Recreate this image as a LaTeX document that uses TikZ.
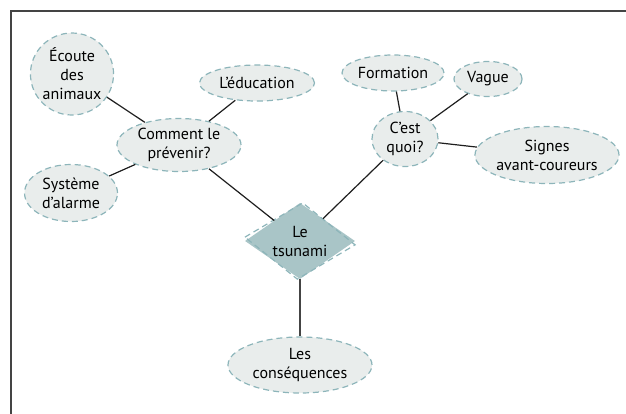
\documentclass[tikz,border=0pt]{standalone}
\usepackage{fontspec}
\setmainfont{PT Sans}
\usetikzlibrary{shapes.geometric,calc}
\definecolor{bubble}{HTML}{E9EDEC}
\definecolor{rim}{HTML}{8DB5BA}
\definecolor{diam}{HTML}{A9C5C7}
\definecolor{wirec}{HTML}{1E1E1E}
\definecolor{framec}{HTML}{444444}
\begin{document}
\begin{tikzpicture}[x=1pt,y=-1pt,
  bub/.style={ellipse, fill=bubble, draw=rim, line width=1.2pt, dash pattern=on 6pt off 4pt,
    inner sep=0pt, align=center, font=\fontsize{16}{19}\selectfont},
  tsub/.style={diamond, fill=diam, inner sep=0pt, minimum width=110pt, minimum height=76pt,
    aspect=1.45, align=center, font=\fontsize{16}{19}\selectfont},
  wire/.style={draw=wirec, line width=1.2pt},
  stem/.style={draw=framec, line width=1.8pt}]
\useasboundingbox (0,0) rectangle (626,413);
\draw[line width=2pt, draw=framec] (627,11) -- (11,11) -- (11,414);

\node[bub, minimum width=83pt, minimum height=82pt] (ecoute) at (72,74) {Écoute\\des\\animaux};
\node[bub, minimum width=115pt, minimum height=36pt] (educ) at (257,83) {L’éducation};
\node[bub, minimum width=124pt, minimum height=53pt] (prev) at (179,145) {Comment le\\prévenir?};
\node[bub, minimum width=93pt, minimum height=57pt] (alarme) at (71,193) {Système\\d’alarme};
\node[bub, minimum width=102pt, minimum height=36pt] (form) at (393,73) {Formation};
\node[bub, minimum width=68pt, minimum height=35pt] (vague) at (488,79) {Vague};
\node[bub, minimum width=66pt, minimum height=55pt] (quoi) at (405,139) {C’est\\quoi?};
\node[bub, minimum width=144pt, minimum height=57pt] (signes) at (547,155) {Signes\\avant-coureurs};
\node[tsub] (tsu) at (300,241) {Le\\tsunami};
\node[bub, minimum width=144pt, minimum height=56pt] (cons) at (300,365) {Les\\conséquences};

\draw[draw=rim, line width=1.2pt, dash pattern=on 6pt off 4pt]
  ($(tsu.center)!1!-4:(tsu.west)$) -- ($(tsu.center)!1!-4:(tsu.north)$) --
  ($(tsu.center)!1!-4:(tsu.east)$) -- ($(tsu.center)!1!-4:(tsu.south)$) -- cycle;

\draw[wire] (ecoute) -- (prev);
\draw[wire] (educ) -- (prev);
\draw[wire] (alarme) -- (prev);
\draw[wire] (prev) -- (tsu);
\draw[wire] (tsu) -- (quoi);
\draw[wire] (form) -- (quoi);
\draw[wire] (vague) -- (quoi);
\draw[wire] (quoi) -- (signes);
\draw[stem] (tsu) -- (cons);
\end{tikzpicture}
\end{document}
